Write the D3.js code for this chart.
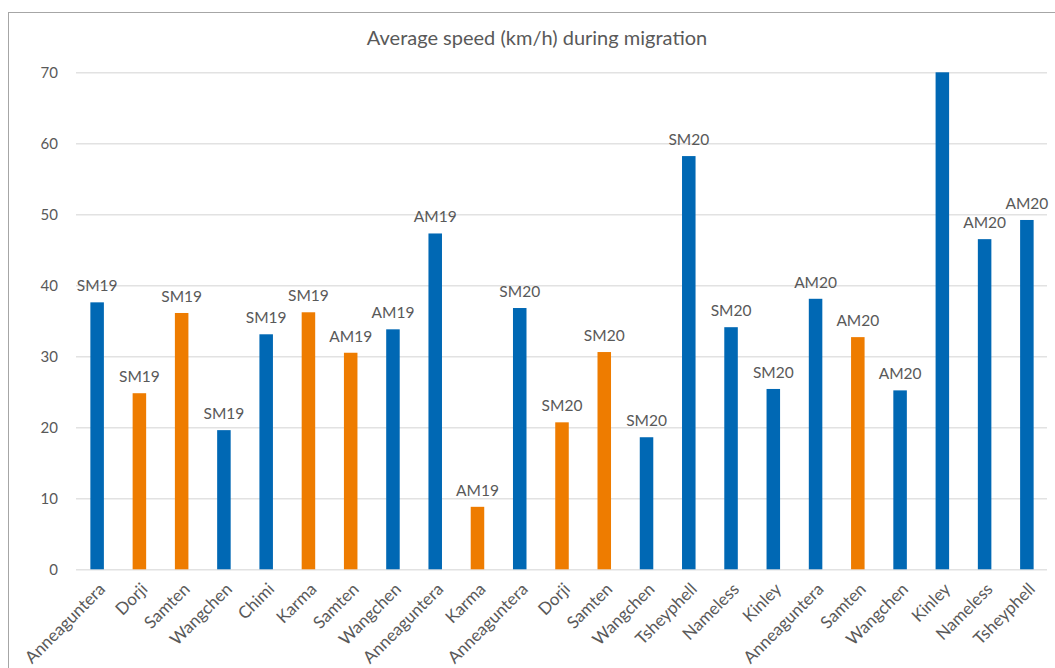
<!doctype html>
<html lang="en">
<head>
  <meta charset="utf-8">
  <title>Average speed during migration - D3</title>
  <style>
    body { margin: 0; background: #fff; }
    text { font-family: Lato, "Open Sans", sans-serif; fill: #595959; }
  </style>
</head>
<body>
  <svg width="1055" height="668"></svg>

  <script src="https://cdn.jsdelivr.net/npm/d3@7"></script>
  <script>
    var birds = ["Anneaguntera", "Dorji", "Samten", "Wangchen", "Chimi", "Karma", "Samten", "Wangchen",
      "Anneaguntera", "Karma", "Anneaguntera", "Dorji", "Samten", "Wangchen", "Tsheyphell", "Nameless",
      "Kinley", "Anneaguntera", "Samten", "Wangchen", "Kinley", "Nameless", "Tsheyphell"];
    var speeds = [37.6, 24.8, 36.1, 19.6, 33.1, 36.2, 30.5, 33.8, 47.3, 8.8, 36.8, 20.7, 30.6, 18.6,
      58.2, 34.1, 25.4, 38.1, 32.7, 25.2, 70, 46.5, 49.2];
    // season of each track; the Kinley bar runs off the axis so Excel drops its label
    var seasons = ["SM19", "SM19", "SM19", "SM19", "SM19", "SM19", "AM19", "AM19", "AM19", "AM19",
      "SM20", "SM20", "SM20", "SM20", "SM20", "SM20", "SM20", "AM20", "AM20", "AM20", "", "AM20", "AM20"];
    // which bars are orange
    var group = ["b", "o", "o", "b", "b", "o", "o", "b", "b", "o", "b", "o", "o", "b", "b", "b",
      "b", "b", "o", "b", "b", "b", "b"];
    var yTicks = [0, 10, 20, 30, 40, 50, 60, 70];

    var colors = { b: "#0068b4", o: "#ee7c00" };
    var margin = { left: 76, right: 1048, top: 72.3, bottom: 569.3 };

    var svg = d3.select("svg");

    // chart frame
    svg.append("rect")
      .attr("x", 8.5).attr("y", 12.5)
      .attr("width", 1060).attr("height", 670)
      .attr("fill", "none")
      .attr("stroke", "#a6a6a6");

    svg.append("text")
      .attr("x", 537).attr("y", 45)
      .attr("text-anchor", "middle")
      .attr("font-size", "20px")
      .text("Average speed (km/h) during migration");

    var x = d3.scaleBand()
      .domain(d3.range(birds.length))
      .range([margin.left, margin.right])
      .paddingInner(0.68)
      .paddingOuter(0.34);

    var y = d3.scaleLinear()
      .domain([0, 70])
      .range([margin.bottom, margin.top]);

    // gridlines + y labels
    var yAxis = svg.append("g")
      .attr("transform", "translate(" + margin.left + ",0)")
      .call(d3.axisLeft(y).tickValues(yTicks).tickSize(-(1047 - margin.left)).tickPadding(18));
    yAxis.select(".domain").remove();
    yAxis.selectAll("line").attr("stroke", "#e2e2e2").attr("stroke-width", 1.5);
    yAxis.selectAll("text").attr("font-size", "15px").attr("font-family", "Lato, sans-serif").attr("fill", "#595959");

    svg.append("g").selectAll("rect").data(speeds).enter()
      .append("rect")
      .attr("x", (v, i) => x(i))
      .attr("width", x.bandwidth())
      .attr("y", v => y(Math.min(v, 70)))
      .attr("height", v => y(0) - y(Math.min(v, 70)))
      .attr("fill", (v, i) => colors[group[i]]);

    svg.append("g").selectAll("text").data(speeds).enter()
      .append("text")
      .attr("x", (v, i) => x(i) + x.bandwidth() / 2)
      .attr("y", v => y(v) - 11)
      .attr("text-anchor", "middle")
      .attr("font-size", "15.5px")
      .text((v, i) => seasons[i]);

    // category labels, rotated
    svg.append("g").selectAll("text").data(birds).enter()
      .append("text")
      .attr("transform", (d, i) => "translate(" + (x(i) + x.bandwidth() / 2 + 5) + ",586) rotate(-45)")
      .attr("text-anchor", "end")
      .attr("dy", "0.35em")
      .attr("font-size", "17px")
      .text(d => d);
  </script>
</body>
</html>
